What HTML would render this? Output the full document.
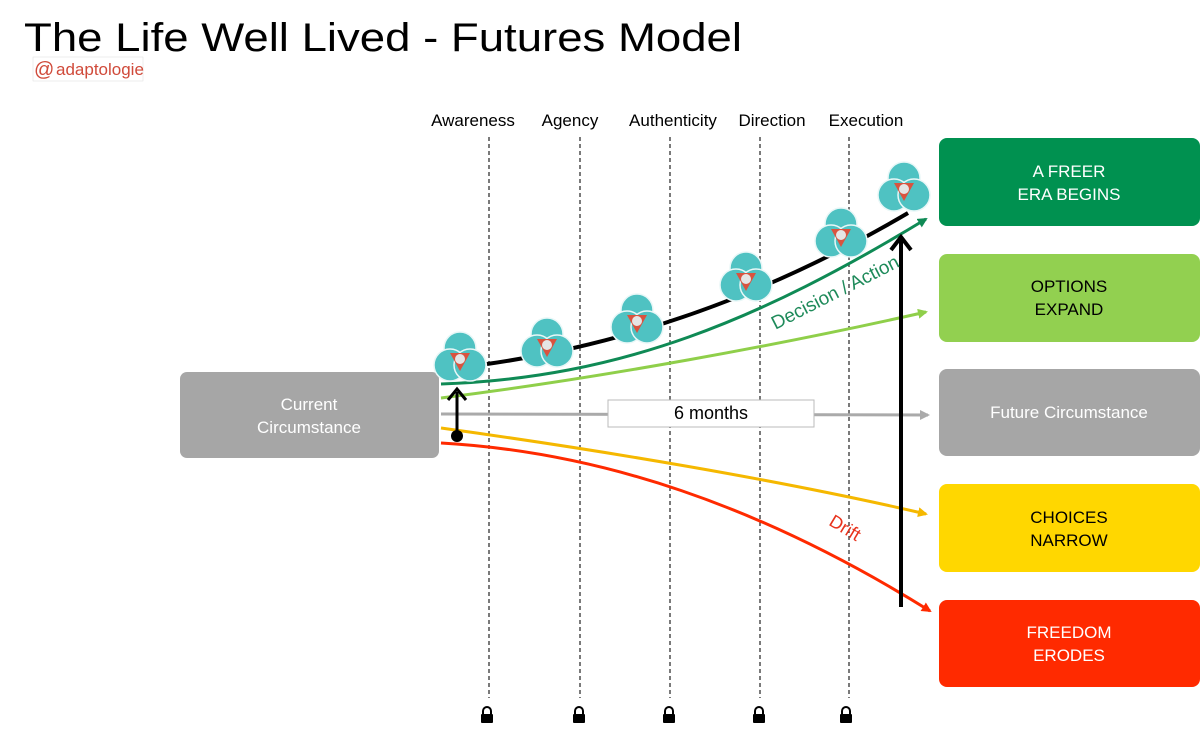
<!DOCTYPE html>
<html><head><meta charset="utf-8"><style>
html,body{margin:0;padding:0;background:#fff;}
svg{display:block;font-family:"Liberation Sans",sans-serif;}
</style></head><body>
<svg width="1200" height="742" viewBox="0 0 1200 742" xmlns="http://www.w3.org/2000/svg">
<defs>
<marker id="ag" markerWidth="10" markerHeight="10" refX="8" refY="5" orient="auto" markerUnits="userSpaceOnUse"><path d="M0,0 L10,5 L0,10 z" fill="#0f8a55"/></marker>
<marker id="al" markerWidth="10" markerHeight="10" refX="8" refY="5" orient="auto" markerUnits="userSpaceOnUse"><path d="M0,0 L10,5 L0,10 z" fill="#8fcf4a"/></marker>
<marker id="ay" markerWidth="10" markerHeight="10" refX="8" refY="5" orient="auto" markerUnits="userSpaceOnUse"><path d="M0,0 L10,5 L0,10 z" fill="#f5b800"/></marker>
<marker id="ar" markerWidth="10" markerHeight="10" refX="8" refY="5" orient="auto" markerUnits="userSpaceOnUse"><path d="M0,0 L10,5 L0,10 z" fill="#ff2a00"/></marker>
<marker id="ay2" markerWidth="10" markerHeight="10" refX="8" refY="5" orient="auto" markerUnits="userSpaceOnUse"><path d="M0,0 L10,5 L0,10 z" fill="#aaa"/></marker>
<g id="ic">
<circle cx="0" cy="-10" r="16" fill="#4fc2c2" stroke="#e8f7f7" stroke-width="1.5"/>
<circle cx="-10" cy="7" r="16" fill="#4fc2c2" stroke="#e8f7f7" stroke-width="1.5"/>
<circle cx="10" cy="7" r="16" fill="#4fc2c2" stroke="#e8f7f7" stroke-width="1.5"/>
<path d="M-10,-5 L10,-5 L0,13 z" fill="#d9533f"/>
<circle cx="0" cy="1" r="5" fill="#e5e5e5"/>
</g>
</defs>
<text x="24" y="51" font-size="40" fill="#000" textLength="718" lengthAdjust="spacingAndGlyphs">The Life Well Lived - Futures Model</text>
<rect x="33" y="57" width="110" height="24" fill="#fff" stroke="#ddd" stroke-width="0.5"/>
<text x="34" y="76" font-size="20" fill="#d04a3a">@</text>
<text x="56" y="75" font-size="17" fill="#d04a3a">adaptologie</text>

<g font-size="17" fill="#000" text-anchor="middle">
<text x="473" y="126">Awareness</text>
<text x="570" y="126">Agency</text>
<text x="673" y="126">Authenticity</text>
<text x="772" y="126">Direction</text>
<text x="866" y="126">Execution</text>
</g>
<g stroke="#333" stroke-width="1.3" stroke-dasharray="4,3">
<line x1="489" y1="137" x2="489" y2="698"/>
<line x1="580" y1="137" x2="580" y2="698"/>
<line x1="670" y1="137" x2="670" y2="698"/>
<line x1="760" y1="137" x2="760" y2="698"/>
<line x1="849" y1="137" x2="849" y2="698"/>
</g>
<g fill="#000">
<g transform="translate(487,716)"><rect x="-6" y="-2" width="12" height="9" rx="1"/><path d="M-4,-2 v-3 a4,4 0 0 1 8,0 v3" fill="none" stroke="#000" stroke-width="2"/></g>
<g transform="translate(579,716)"><rect x="-6" y="-2" width="12" height="9" rx="1"/><path d="M-4,-2 v-3 a4,4 0 0 1 8,0 v3" fill="none" stroke="#000" stroke-width="2"/></g>
<g transform="translate(669,716)"><rect x="-6" y="-2" width="12" height="9" rx="1"/><path d="M-4,-2 v-3 a4,4 0 0 1 8,0 v3" fill="none" stroke="#000" stroke-width="2"/></g>
<g transform="translate(759,716)"><rect x="-6" y="-2" width="12" height="9" rx="1"/><path d="M-4,-2 v-3 a4,4 0 0 1 8,0 v3" fill="none" stroke="#000" stroke-width="2"/></g>
<g transform="translate(846,716)"><rect x="-6" y="-2" width="12" height="9" rx="1"/><path d="M-4,-2 v-3 a4,4 0 0 1 8,0 v3" fill="none" stroke="#000" stroke-width="2"/></g>
</g>

<rect x="180" y="372" width="259" height="86" rx="7" fill="#a6a6a6"/>
<text x="309" y="410" font-size="17" fill="#fff" text-anchor="middle">Current</text>
<text x="309" y="433" font-size="17" fill="#fff" text-anchor="middle">Circumstance</text>

<rect x="939" y="138" width="261" height="88" rx="8" fill="#009150"/>
<text x="1069" y="177" font-size="17" fill="#fff" text-anchor="middle">A FREER</text>
<text x="1069" y="200" font-size="17" fill="#fff" text-anchor="middle">ERA BEGINS</text>
<rect x="939" y="254" width="261" height="88" rx="8" fill="#92d050"/>
<text x="1069" y="292" font-size="17" fill="#000" text-anchor="middle">OPTIONS</text>
<text x="1069" y="315" font-size="17" fill="#000" text-anchor="middle">EXPAND</text>
<rect x="939" y="369" width="261" height="87" rx="8" fill="#a6a6a6"/>
<text x="1069" y="418" font-size="17" fill="#fff" text-anchor="middle">Future Circumstance</text>
<rect x="939" y="484" width="261" height="88" rx="8" fill="#ffd700"/>
<text x="1069" y="523" font-size="17" fill="#000" text-anchor="middle">CHOICES</text>
<text x="1069" y="546" font-size="17" fill="#000" text-anchor="middle">NARROW</text>
<rect x="939" y="600" width="261" height="87" rx="8" fill="#ff2a00"/>
<text x="1069" y="638" font-size="17" fill="#fff" text-anchor="middle">FREEDOM</text>
<text x="1069" y="661" font-size="17" fill="#fff" text-anchor="middle">ERODES</text>

<line x1="441" y1="414" x2="928" y2="415" stroke="#aaa" stroke-width="3" marker-end="url(#ay2)"/>
<rect x="608" y="400" width="206" height="27" fill="#fff" stroke="#bbb" stroke-width="1"/>
<text x="711" y="419" font-size="18" fill="#000" text-anchor="middle">6 months</text>

<path d="M441,398 C600,378 780,345 926,312" fill="none" stroke="#8fcf4a" stroke-width="3" marker-end="url(#al)"/>
<path d="M441,384 C620,378 760,320 926,219" fill="none" stroke="#0f8a55" stroke-width="3" marker-end="url(#ag)"/>
<path d="M487,364 C620,345 760,300 908,213" fill="none" stroke="#000" stroke-width="4"/>
<path d="M441,428 C600,450 780,480 926,514" fill="none" stroke="#f5b800" stroke-width="3" marker-end="url(#ay)"/>
<path d="M441,443 C600,452 760,505 930,611" fill="none" stroke="#ff2a00" stroke-width="3" marker-end="url(#ar)"/>

<line x1="901" y1="607" x2="901" y2="240" stroke="#000" stroke-width="4"/>
<path d="M891,250 L901,237 L911,250" fill="none" stroke="#000" stroke-width="4"/>
<line x1="457" y1="436" x2="457" y2="392" stroke="#000" stroke-width="3"/>
<path d="M448,400 L457,389 L466,400" fill="none" stroke="#000" stroke-width="3"/>
<circle cx="457" cy="436" r="6" fill="#000"/>

<text transform="translate(838,298) rotate(-27)" font-size="19" fill="#1e8a5a" text-anchor="middle">Decision / Action</text>
<text transform="translate(842,533) rotate(31)" font-size="18" fill="#e8321c" text-anchor="middle">Drift</text>

<use href="#ic" x="460" y="358"/>
<use href="#ic" x="547" y="344"/>
<use href="#ic" x="637" y="320"/>
<use href="#ic" x="746" y="278"/>
<use href="#ic" x="841" y="234"/>
<use href="#ic" x="904" y="188"/>
</svg>
</body></html>
